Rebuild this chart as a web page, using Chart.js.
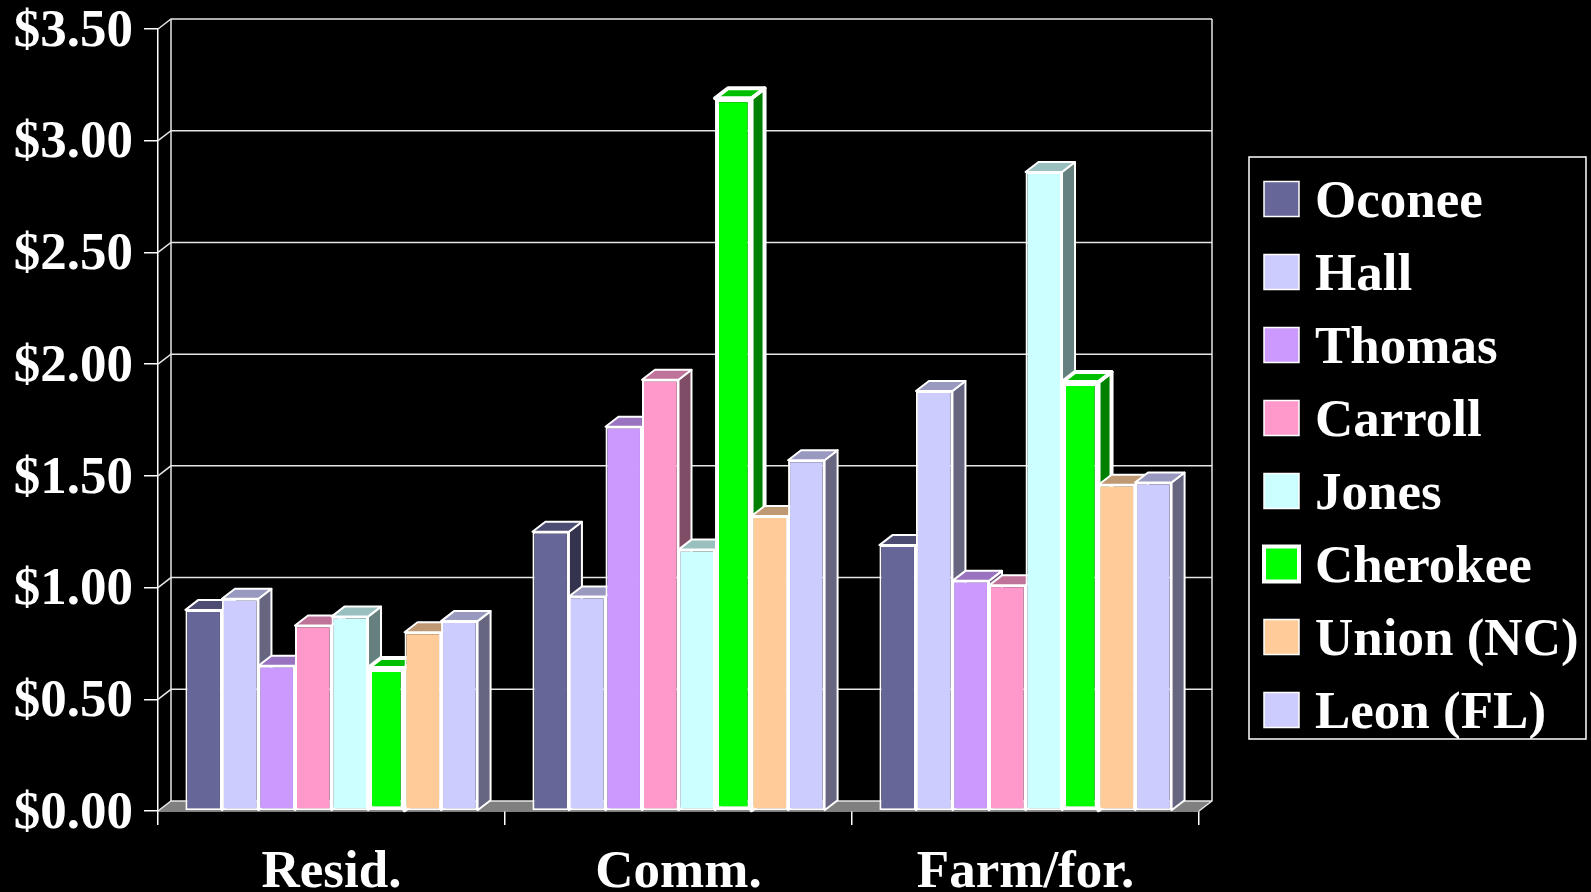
<!DOCTYPE html>
<html>
<head>
<meta charset="utf-8">
<script src="https://cdn.jsdelivr.net/npm/chart.js@4.4.1/dist/chart.umd.min.js"></script>
<style>
  html, body { margin: 0; padding: 0; background: #000; }
  #wrap { width: 1591px; height: 892px; position: relative; }
</style>
</head>
<body>
<div id="wrap"><canvas id="taxChart"></canvas></div>
<script>
// categories and counties
const categories = ['Resid.', 'Comm.', 'Farm/for.'];
const counties = ['Oconee', 'Hall', 'Thomas', 'Carroll', 'Jones', 'Cherokee', 'Union (NC)', 'Leon (FL)'];

// values (Resid., Comm., Farm/for.)
const oconee   = [0.90, 1.25, 1.19];
const hall     = [0.95, 0.96, 1.88];
const thomas   = [0.65, 1.72, 1.03];
const carroll  = [0.83, 1.93, 1.01];
const jones    = [0.87, 1.17, 2.86];
const cherokee = [0.64, 3.19, 1.92];
const unionNC  = [0.80, 1.32, 1.46];
const leonFL   = [0.85, 1.57, 1.47];

const yTicks = [0, 0.5, 1, 1.5, 2, 2.5, 3, 3.5];

const seriesValues = [oconee, hall, thomas, carroll, jones, cherokee, unionNC, leonFL];
const barColors = ['#666699', '#CCCCFF', '#CC99FF', '#FF99CC', '#CCFFFF', '#00FF00', '#FFCC99', '#CCCCFF'];
const borderWidths = [2, 2, 2, 2, 2, 4, 2, 2];

const FONT = "'Liberation Serif', 'Times New Roman', serif";
const DX = 13, DY = -10; // depth offset of the fake 3D

function shade(hex, f) {
    const n = parseInt(hex.slice(1), 16);
    const r = Math.round(((n >> 16) & 255) * f);
    const g = Math.round(((n >> 8) & 255) * f);
    const b = Math.round((n & 255) * f);
    return `rgb(${r},${g},${b})`;
}

function poly(ctx, pts, fill, stroke, lw) {
    ctx.beginPath();
    ctx.moveTo(pts[0][0], pts[0][1]);
    for (let i = 1; i < pts.length; i++) ctx.lineTo(pts[i][0], pts[i][1]);
    ctx.closePath();
    if (fill) { ctx.fillStyle = fill; ctx.fill(); }
    if (stroke) { ctx.strokeStyle = stroke; ctx.lineWidth = lw; ctx.lineJoin = 'round'; ctx.stroke(); }
}

// walls, floor and the side/top faces of each bar
const depthPlugin = {
    id: 'depth',
    beforeDatasetsDraw(chart) {
        const ctx = chart.ctx;
        const { left, right, top, bottom } = chart.chartArea;
        const y = chart.scales.y;
        ctx.save();

        // floor
        poly(ctx, [[left, bottom], [right, bottom], [right + DX, bottom + DY], [left + DX, bottom + DY]], '#808080', null);

        // back wall lines
        ctx.strokeStyle = '#e6e6e6';
        ctx.lineWidth = 1.5;
        yTicks.forEach(v => {
            const py = y.getPixelForValue(v);
            ctx.beginPath();
            ctx.moveTo(left, py);
            ctx.lineTo(left + DX, py + DY);
            ctx.lineTo(right + DX, py + DY);
            ctx.stroke();
        });
        ctx.beginPath();
        ctx.moveTo(left + DX, top + DY);
        ctx.lineTo(left + DX, bottom + DY);
        ctx.moveTo(right + DX, top + DY);
        ctx.lineTo(right + DX, bottom + DY);
        ctx.lineTo(right, bottom);
        ctx.stroke();

        // side and top faces, left to right
        for (let c = 0; c < categories.length; c++) {
            chart.data.datasets.forEach((ds, i) => {
                const meta = chart.getDatasetMeta(i);
                const bar = meta.data[c];
                const x0 = bar.x - bar.width / 2;
                const x1 = bar.x + bar.width / 2;
                const yt = bar.y, yb = bar.base;
                const col = barColors[i];
                const lw = borderWidths[i];
                poly(ctx, [[x1, yt], [x1 + DX, yt + DY], [x1 + DX, yb + DY], [x1, yb]], shade(col, 0.5), '#fff', lw);
                poly(ctx, [[x0, yt], [x1, yt], [x1 + DX, yt + DY], [x0 + DX, yt + DY]], shade(col, 0.75), '#fff', lw);
            });
        }
        ctx.restore();
    }
};

// boxed legend on the right
const legendPlugin = {
    id: 'boxLegend',
    afterDraw(chart) {
        const ctx = chart.ctx;
        const bx = 1249, by = 157, bw = 337, bh = 582;
        ctx.save();
        ctx.strokeStyle = '#fff';
        ctx.lineWidth = 1.5;
        ctx.strokeRect(bx, by, bw, bh);
        ctx.font = `bold 53px ${FONT}`;
        ctx.textBaseline = 'middle';
        ctx.textAlign = 'left';
        counties.forEach((name, i) => {
            const cy = 199 + i * 73;
            ctx.fillStyle = barColors[i];
            ctx.fillRect(1264, cy - 17.5, 35, 35);
            ctx.strokeStyle = '#fff';
            ctx.lineWidth = borderWidths[i] === 4 ? 4 : 1.5;
            ctx.strokeRect(1264, cy - 17.5, 35, 35);
            ctx.fillStyle = '#fff';
            ctx.fillText(name, 1315, cy + 4);
        });
        ctx.restore();
    }
};

const ctx = document.getElementById('taxChart').getContext('2d');

new Chart(ctx, {
    type: 'bar',
    data: {
        labels: categories,
        datasets: counties.map((name, i) => ({
            label: name,
            data: seriesValues[i],
            backgroundColor: barColors[i],
            borderColor: '#fff',
            borderWidth: borderWidths[i],
            borderSkipped: false,
            categoryPercentage: 0.842,
            barPercentage: 1.0
        }))
    },
    options: {
        responsive: true,
        maintainAspectRatio: false,
        animation: false,
        devicePixelRatio: 1,
        layout: {
            padding: { top: 29, left: 12, right: 392, bottom: 0 }
        },
        scales: {
            x: {
                grid: { drawOnChartArea: false, offset: true, tickLength: 14, color: '#fff', lineWidth: 1.5 },
                border: { color: '#fff', width: 1.5 },
                ticks: {
                    color: '#fff',
                    padding: 22,
                    font: { family: FONT, size: 53, weight: 'bold', lineHeight: 1 }
                },
                afterFit: function (scale) { scale.height = 81; }
            },
            y: {
                min: 0,
                max: 3.5,
                grid: { drawOnChartArea: false, tickLength: 14, color: '#fff', lineWidth: 1.5 },
                border: { color: '#fff', width: 1.5 },
                ticks: {
                    stepSize: 0.5,
                    color: '#fff',
                    padding: 11,
                    labelOffset: 3,
                    font: { family: FONT, size: 53, weight: 'bold', lineHeight: 0.6 },
                    callback: function (value) {
                        return `$${Number(value).toFixed(2)}`;
                    }
                },
                afterFit: function (scale) { scale.width = 146; }
            }
        },
        plugins: {
            legend: { display: false },
            tooltip: { enabled: false }
        }
    },
    plugins: [depthPlugin, legendPlugin]
});
</script>
</body>
</html>
